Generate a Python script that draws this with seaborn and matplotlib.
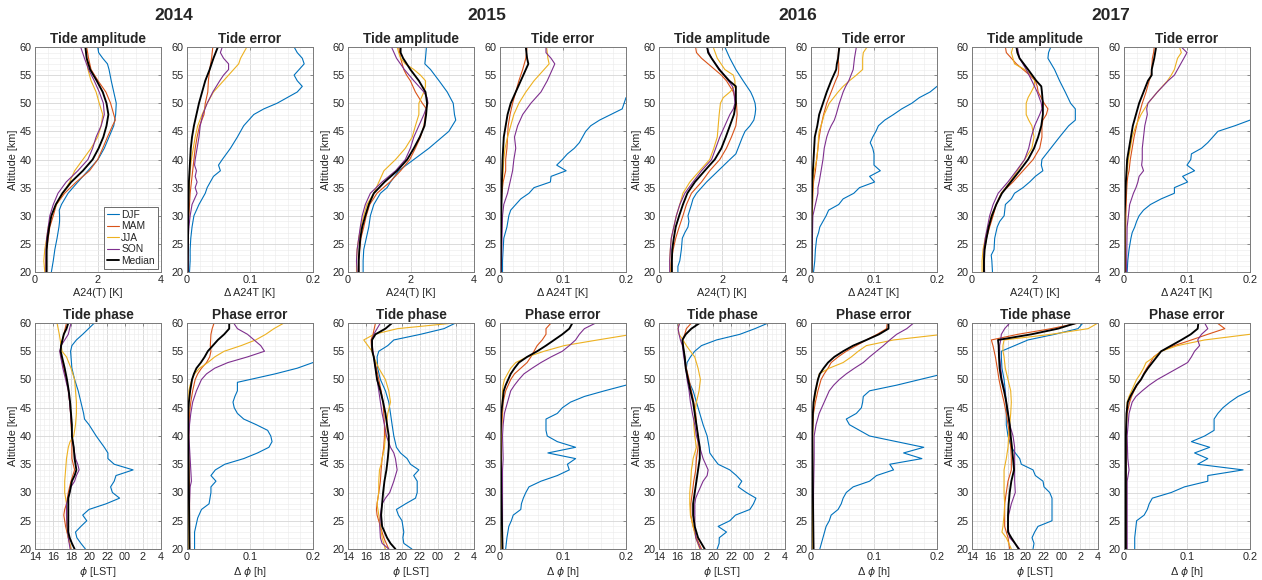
import numpy as np
import pandas as pd
import matplotlib
matplotlib.use("Agg")
import matplotlib.pyplot as plt
import seaborn as sns
from matplotlib.ticker import MultipleLocator, FixedLocator
from matplotlib.lines import Line2D

YEARS = [2014, 2015, 2016, 2017]
SEASONS = ["DJF", "MAM", "JJA", "SON", "Median"]
COLORS = {"DJF": "#0072BD", "MAM": "#D95319", "JJA": "#EDB120", "SON": "#7E2F8E", "Median": "#000000"}
PHASE_TICKS = [14, 16, 18, 20, 22, 24, 26, 28]
PHASE_TICK_LABELS = ["14", "16", "18", "20", "22", "00", "2", "4"]

# ---------------- data: (altitude km, value) ----------------
AMP_2014 = {
 "DJF": [(20,0.52),(22,0.58),(24,0.63),(26,0.70),(28,0.76),(29,0.78),(30,0.78),(31,0.77),(32,0.84),(34,1.05),(36,1.36),(38,1.68),(40,2.0),(42,2.2),(44,2.35),(46,2.5),(48,2.56),(50,2.58),(52,2.5),(54,2.42),(56,2.35),(57,2.3),(58,2.15),(59,2.02),(60,1.99)],
 "MAM": [(20,0.35),(22,0.35),(24,0.37),(26,0.42),(28,0.47),(30,0.58),(32,0.68),(34,0.94),(36,1.31),(38,1.73),(40,1.99),(42,2.15),(44,2.3),(46,2.46),(47,2.55),(48,2.5),(50,2.4),(52,2.25),(54,2.0),(56,1.78),(58,1.7),(60,1.64)],
 "JJA": [(20,0.31),(22,0.28),(24,0.31),(26,0.37),(28,0.42),(30,0.52),(32,0.68),(34,0.89),(36,1.1),(38,1.26),(40,1.52),(42,1.78),(44,1.99),(46,2.1),(48,2.15),(50,2.04),(52,1.94),(54,1.78),(56,1.68),(58,1.64),(60,1.6)],
 "SON": [(20,0.35),(22,0.35),(24,0.35),(26,0.37),(28,0.42),(30,0.47),(32,0.58),(34,0.73),(36,0.99),(38,1.36),(40,1.68),(42,1.83),(44,1.94),(46,2.1),(48,2.2),(50,2.17),(52,2.04),(54,1.88),(56,1.7),(58,1.57),(60,1.45)],
 "Median": [(20,0.37),(22,0.37),(24,0.37),(26,0.4),(28,0.45),(30,0.52),(32,0.66),(34,0.87),(36,1.15),(38,1.52),(40,1.83),(42,2.02),(44,2.17),(46,2.27),(48,2.33),(50,2.27),(52,2.15),(54,1.96),(56,1.75),(58,1.64),(60,1.6)],
}
AMPERR_2014 = {
 "DJF": [(20,0.004),(22,0.005),(24,0.005),(26,0.006),(28,0.008),(30,0.011),(32,0.019),(34,0.029),(35,0.032),(36,0.037),(37,0.042),(38,0.053),(39,0.05),(40,0.056),(42,0.069),(44,0.08),(46,0.09),(48,0.106),(49,0.122),(50,0.143),(51,0.159),(52,0.175),(53,0.183),(54,0.175),(55,0.17),(56,0.178),(57,0.186),(58,0.183),(59,0.175),(60,0.17)],
 "MAM": [(20,0.002),(28,0.002),(30,0.003),(32,0.004),(34,0.005),(36,0.007),(38,0.009),(40,0.011),(42,0.013),(44,0.016),(46,0.02),(48,0.027),(50,0.029),(52,0.033),(54,0.034),(56,0.036),(58,0.039),(60,0.041)],
 "JJA": [(20,0.002),(32,0.002),(34,0.003),(36,0.004),(38,0.005),(40,0.007),(42,0.01),(44,0.013),(46,0.017),(48,0.024),(50,0.032),(52,0.042),(54,0.058),(56,0.074),(57,0.082),(58,0.085),(60,0.095)],
 "SON": [(20,0.002),(26,0.002),(28,0.003),(30,0.005),(32,0.008),(33,0.012),(34,0.016),(35,0.013),(36,0.016),(37,0.013),(38,0.015),(39,0.012),(40,0.013),(42,0.016),(44,0.019),(46,0.021),(48,0.025),(50,0.032),(52,0.041),(54,0.052),(55,0.058),(56,0.066),(57,0.066),(58,0.058),(59,0.053),(60,0.056)],
 "Median": [(20,0.001),(30,0.002),(36,0.003),(38,0.004),(40,0.005),(42,0.006),(44,0.008),(46,0.011),(48,0.015),(50,0.019),(52,0.024),(54,0.029),(56,0.036),(58,0.042),(60,0.049)],
}
PHASE_2014 = {
 "DJF": [(20,19.6),(21,19.1),(22,18.65),(23,18.5),(24,19.1),(25,19.75),(26,19.3),(27,20.0),(28,21.9),(29,23.4),(30,22.6),(31,22.4),(32,22.8),(33,23.0),(34,24.9),(35,22.8),(36,22.1),(37,22.1),(38,21.7),(40,20.8),(42,20.0),(43,19.5),(44,19.4),(46,19.1),(48,18.8),(50,18.4),(52,18.1),(55,17.95),(56,18.1),(57,18.6),(58,19.3),(60,20.6)],
 "MAM": [(20,18.0),(22,17.7),(24,17.4),(26,17.2),(27,17.3),(28,17.5),(30,17.7),(32,18.0),(33,18.2),(34,18.4),(36,18.1),(38,18.1),(40,18.1),(42,18.0),(44,17.95),(46,17.85),(48,17.7),(50,17.5),(52,17.2),(54,16.9),(55,16.8),(56,16.9),(58,17.2),(60,17.5)],
 "JJA": [(20,18.0),(22,17.7),(24,17.5),(26,17.5),(28,17.5),(29,17.4),(30,17.3),(32,17.3),(34,17.4),(36,17.5),(38,17.7),(39,17.9),(40,18.3),(42,18.5),(44,18.6),(46,18.6),(48,18.5),(50,18.4),(52,18.0),(54,17.5),(55,17.0),(56,16.9),(57,16.8),(58,16.7),(60,16.45)],
 "SON": [(20,17.9),(22,17.7),(24,17.55),(26,17.5),(28,17.5),(30,17.85),(31,18.0),(32,18.4),(33,18.6),(34,18.9),(35,18.75),(36,18.5),(38,18.3),(40,18.1),(42,18.05),(44,17.95),(46,17.85),(48,17.7),(50,17.4),(52,17.1),(54,16.85),(55,16.75),(56,16.9),(57,17.3),(58,17.7),(59,17.85),(60,18.0)],
 "Median": [(20,18.4),(21,18.1),(22,17.85),(23,17.7),(24,17.7),(26,17.7),(28,17.7),(29,17.7),(30,17.85),(32,18.1),(33,18.4),(34,18.6),(36,18.4),(38,18.3),(40,18.1),(42,18.1),(44,18.0),(46,17.9),(48,17.75),(50,17.55),(52,17.3),(54,17.0),(55,16.85),(56,16.9),(58,17.2),(59,17.5),(60,17.7)],
}
PHERR_2014 = {
 "DJF": [(20,0.012),(23,0.012),(25.5,0.017),(27,0.023),(28,0.035),(30,0.038),(31,0.038),(32,0.046),(33,0.038),(34,0.045),(35,0.06),(36,0.09),(37,0.112),(38,0.13),(39,0.135),(40,0.133),(41,0.128),(42,0.11),(43,0.09),(44,0.08),(45,0.075),(46,0.073),(47,0.076),(48,0.08),(49.5,0.08),(50,0.1),(51,0.14),(52,0.175),(53,0.2),(54,0.24),(60,0.4)],
 "MAM": [(20,0.004),(30,0.004),(36,0.003),(40,0.003),(44,0.004),(46,0.006),(48,0.009),(50,0.013),(51,0.017),(52,0.023),(53,0.031),(54,0.036),(55,0.038),(56,0.037),(58,0.038),(59,0.04),(60,0.043)],
 "JJA": [(20,0.003),(40,0.002),(48,0.003),(49,0.005),(50,0.008),(51,0.012),(52,0.02),(53,0.033),(54,0.044),(55,0.059),(56,0.086),(57,0.109),(58,0.125),(59,0.138),(60,0.154)],
 "SON": [(20,0.004),(28,0.004),(31,0.005),(32,0.007),(34,0.006),(36,0.005),(40,0.003),(42,0.004),(44,0.006),(46,0.009),(48,0.015),(50,0.023),(51,0.031),(52,0.044),(53,0.065),(54,0.096),(55,0.123),(56,0.117),(58,0.096),(59,0.08),(60,0.074)],
 "Median": [(20,0.004),(30,0.003),(40,0.002),(44,0.002),(46,0.003),(48,0.005),(50,0.008),(51,0.011),(52,0.015),(53,0.022),(54,0.028),(55,0.033),(56,0.041),(57,0.049),(58,0.059),(59,0.067),(60,0.067)],
}

AMP_2015 = {
 "DJF": [(20,0.48),(22,0.48),(24,0.5),(26,0.58),(28,0.66),(30,0.71),(32,0.82),(34,1.03),(35,1.24),(36,1.35),(38,1.61),(40,2.09),(42,2.57),(44,2.99),(45,3.2),(46,3.31),(47,3.42),(48,3.38),(50,3.34),(52,3.15),(54,2.89),(56,2.62),(57,2.44),(58,2.46),(60,2.49)],
 "MAM": [(20,0.34),(22,0.34),(24,0.37),(26,0.41),(28,0.5),(30,0.58),(32,0.69),(34,0.92),(36,1.33),(38,1.67),(40,1.96),(42,2.14),(44,2.3),(46,2.41),(48,2.46),(49,2.49),(50,2.36),(52,2.14),(54,1.98),(55,1.86),(56,1.77),(58,1.67),(60,1.61)],
 "JJA": [(20,0.27),(22,0.27),(24,0.29),(26,0.34),(28,0.41),(30,0.5),(32,0.6),(34,0.82),(36,0.98),(38,1.14),(40,1.51),(42,1.82),(44,2.04),(46,2.14),(48,2.25),(50,2.25),(52,2.41),(53,2.46),(54,2.46),(55,2.3),(56,2.09),(57,1.82),(58,1.67),(59,1.61),(60,1.56)],
 "SON": [(20,0.29),(22,0.27),(24,0.29),(26,0.34),(28,0.39),(30,0.45),(32,0.55),(34,0.71),(36,1.08),(38,1.51),(40,1.82),(42,1.98),(44,2.09),(46,2.25),(48,2.41),(50,2.54),(51,2.51),(52,2.41),(54,2.09),(56,1.79),(58,1.54),(60,1.38)],
 "Median": [(20,0.34),(22,0.34),(24,0.36),(26,0.39),(28,0.45),(30,0.55),(32,0.66),(34,0.82),(36,1.16),(38,1.56),(40,1.88),(42,2.09),(44,2.28),(46,2.43),(48,2.48),(50,2.51),(52,2.46),(54,2.25),(56,1.98),(58,1.75),(59,1.67),(60,1.67)],
}
AMPERR_2015 = {
 "DJF": [(20,0.004),(22,0.004),(24,0.005),(26,0.006),(28,0.011),(30,0.014),(31,0.017),(32,0.025),(33,0.033),(34,0.046),(35,0.054),(36,0.08),(37,0.081),(38,0.105),(39,0.09),(40,0.099),(41,0.107),(42,0.118),(43,0.126),(44,0.131),(45,0.136),(46,0.144),(47,0.158),(48,0.176),(49,0.194),(50,0.197),(51,0.2),(52,0.22),(60,0.35)],
 "MAM": [(20,0.001),(32,0.002),(34,0.003),(36,0.005),(38,0.009),(40,0.009),(42,0.011),(44,0.012),(46,0.013),(48,0.016),(50,0.02),(52,0.025),(54,0.03),(56,0.036),(58,0.041),(60,0.043)],
 "JJA": [(20,0.001),(34,0.002),(36,0.004),(38,0.005),(40,0.006),(42,0.008),(44,0.012),(46,0.017),(48,0.022),(50,0.03),(52,0.041),(54,0.054),(56,0.07),(57,0.078),(58,0.076),(60,0.074)],
 "SON": [(20,0.002),(30,0.004),(32,0.006),(33,0.009),(34,0.012),(35,0.014),(36,0.016),(38,0.02),(40,0.022),(42,0.025),(44,0.023),(46,0.028),(48,0.036),(50,0.049),(52,0.065),(54,0.075),(56,0.083),(57,0.087),(58,0.081),(59,0.073),(60,0.073)],
 "Median": [(20,0.001),(30,0.002),(36,0.003),(40,0.004),(42,0.005),(44,0.006),(46,0.009),(48,0.012),(50,0.017),(52,0.025),(54,0.033),(56,0.041),(57,0.045),(58,0.043),(60,0.041)],
}
PHASE_2015 = {
 "DJF": [(20,21.1),(21,20.2),(22,20.1),(23,20.2),(24,20.1),(25,20.0),(26,19.6),(27,19.38),(28,20.4),(29,21.5),(30,21.69),(31,21.69),(32,21.69),(33,21.3),(34,21.87),(35,20.94),(36,20.57),(37,19.83),(38,19.38),(40,19.09),(42,18.9),(44,18.72),(46,18.53),(48,18.16),(50,17.6),(52,17.3),(54,17.23),(55,17.42),(56,18.42),(57,19.09),(58,22.06),(59,24.66),(60,25.96)],
 "MAM": [(20,18.53),(22,17.97),(24,17.6),(26,17.23),(27,17.16),(28,17.23),(30,17.42),(32,17.6),(34,17.68),(36,17.79),(38,17.97),(40,18.05),(42,18.05),(44,17.97),(46,17.9),(48,17.68),(50,17.42),(52,17.16),(54,16.86),(56,16.6),(57,16.56),(58,16.78),(60,17.05)],
 "JJA": [(20,18.16),(22,17.79),(24,17.6),(26,17.42),(28,17.23),(30,17.42),(32,17.42),(34,17.5),(35,17.68),(36,17.79),(38,18.05),(40,18.16),(42,18.27),(44,18.42),(46,18.72),(48,18.53),(50,18.16),(52,17.42),(54,16.86),(55,16.67),(57,15.75),(58,16.9),(59,19.5),(60,25.8)],
 "SON": [(20,18.53),(21,17.79),(22,17.6),(24,17.53),(26,17.6),(28,17.79),(29,18.16),(30,18.64),(32,19.09),(34,19.46),(36,19.27),(37,19.09),(38,18.72),(40,18.27),(42,18.05),(44,17.79),(46,17.6),(48,17.42),(50,17.23),(52,17.05),(54,16.86),(56,16.7),(57,16.67),(58,16.86),(59,17.23),(60,17.6)],
 "Median": [(20,19.27),(21,18.72),(22,18.34),(24,17.79),(26,17.68),(28,17.79),(30,17.9),(32,18.05),(34,18.27),(36,18.42),(38,18.53),(40,18.53),(42,18.34),(44,18.16),(46,17.9),(48,17.6),(50,17.23),(52,17.05),(54,16.86),(55,16.7),(56,16.67),(57,16.67),(58,17.05),(59,18.16),(60,18.9)],
}
PHERR_2015 = {
 "DJF": [(20,0.009),(22,0.011),(24,0.014),(25,0.018),(26,0.021),(27,0.033),(28,0.034),(29,0.037),(30,0.041),(31,0.046),(32,0.065),(33,0.091),(34,0.11),(35,0.107),(36,0.12),(37,0.076),(38,0.12),(39,0.091),(40,0.075),(41,0.073),(42,0.073),(43,0.073),(44,0.091),(45,0.099),(46,0.112),(47,0.134),(48,0.166),(49,0.2),(50,0.24),(60,0.5)],
 "MAM": [(20,0.004),(30,0.002),(40,0.002),(44,0.004),(46,0.005),(48,0.009),(49,0.013),(50,0.017),(51,0.023),(52,0.033),(53,0.043),(54,0.049),(55,0.054),(56,0.059),(57,0.067),(58,0.073),(59,0.073),(60,0.081)],
 "JJA": [(20,0.002),(40,0.002),(48,0.004),(49,0.005),(50,0.007),(51,0.012),(52,0.017),(53,0.025),(54,0.043),(55,0.07),(56,0.102),(57,0.155),(58,0.21),(60,0.3)],
 "SON": [(20,0.004),(30,0.004),(34,0.004),(36,0.005),(40,0.004),(42,0.005),(44,0.007),(46,0.012),(48,0.017),(49,0.023),(50,0.03),(51,0.038),(52,0.051),(53,0.065),(54,0.081),(55,0.099),(56,0.11),(57,0.12),(58,0.126),(59,0.134),(60,0.152)],
 "Median": [(20,0.004),(30,0.002),(40,0.001),(44,0.002),(46,0.004),(48,0.006),(49,0.009),(50,0.013),(51,0.017),(52,0.023),(53,0.03),(54,0.043),(55,0.059),(56,0.073),(57,0.086),(58,0.099),(59,0.11),(60,0.115)],
}

AMP_2016 = {
 "DJF": [(20,0.6),(21,0.6),(22,0.66),(24,0.71),(26,0.74),(27,0.82),(28,0.92),(29,0.95),(30,0.92),(32,1.03),(33,1.08),(34,1.19),(36,1.51),(38,1.88),(40,2.25),(41,2.44),(42,2.51),(44,2.65),(45,2.73),(46,2.89),(47,3.01),(48,3.05),(49,3.07),(50,3.05),(51,2.99),(52,2.91),(54,2.67),(56,2.44),(58,2.25),(60,2.09)],
 "MAM": [(20,0.36),(22,0.39),(24,0.45),(26,0.53),(28,0.64),(30,0.76),(32,0.87),(34,1.03),(36,1.35),(38,1.61),(40,1.93),(42,2.14),(44,2.3),(46,2.44),(48,2.48),(50,2.46),(52,2.36),(53,2.25),(54,2.14),(55,1.98),(56,1.77),(57,1.56),(58,1.35),(59,1.19),(60,1.16)],
 "JJA": [(20,0.36),(22,0.34),(24,0.36),(26,0.39),(28,0.47),(30,0.55),(32,0.66),(34,0.76),(36,0.98),(38,1.29),(40,1.61),(42,1.74),(44,1.85),(46,1.88),(48,1.91),(49,1.93),(50,1.95),(51,2.04),(52,2.25),(53,2.41),(54,2.41),(55,2.36),(56,2.09),(58,1.85),(60,1.72)],
 "SON": [(20,0.34),(22,0.34),(24,0.36),(26,0.39),(28,0.47),(30,0.55),(32,0.66),(34,0.82),(36,1.08),(38,1.35),(40,1.67),(42,1.8),(44,1.93),(46,2.09),(48,2.25),(49,2.36),(50,2.41),(52,2.38),(53,2.33),(54,2.2),(56,1.93),(58,1.67),(60,1.51)],
 "Median": [(20,0.41),(22,0.41),(24,0.42),(26,0.47),(28,0.53),(30,0.64),(32,0.76),(34,0.9),(36,1.14),(38,1.45),(40,1.77),(42,1.98),(44,2.12),(46,2.25),(48,2.38),(50,2.44),(52,2.44),(53,2.44),(54,2.23),(56,1.91),(58,1.67),(59,1.56),(60,1.53)],
}
AMPERR_2016 = {
 "DJF": [(20,0.004),(22,0.006),(24,0.007),(26,0.009),(27,0.012),(28,0.014),(29,0.019),(30,0.024),(31,0.028),(32,0.044),(33,0.051),(34,0.068),(35,0.077),(36,0.101),(37,0.093),(38,0.11),(39,0.1),(40,0.1),(41,0.1),(42,0.098),(43,0.094),(44,0.098),(45,0.103),(46,0.107),(47,0.117),(48,0.131),(49,0.144),(50,0.16),(51,0.172),(52,0.189),(53,0.2),(54,0.215),(60,0.3)],
 "MAM": [(20,0.001),(30,0.002),(34,0.003),(36,0.004),(38,0.007),(40,0.009),(42,0.011),(44,0.013),(46,0.016),(48,0.02),(50,0.025),(52,0.032),(54,0.039),(55,0.043),(56,0.044),(57,0.044),(58,0.043),(60,0.044)],
 "JJA": [(20,0.001),(30,0.002),(36,0.003),(38,0.005),(40,0.009),(42,0.011),(44,0.012),(45,0.013),(46,0.016),(48,0.021),(50,0.029),(51,0.036),(52,0.043),(53,0.051),(54,0.061),(55,0.072),(56,0.082),(58,0.082),(59,0.083),(60,0.089)],
 "SON": [(20,0.001),(30,0.003),(32,0.007),(34,0.011),(35,0.011),(36,0.013),(38,0.016),(40,0.019),(42,0.021),(44,0.025),(45,0.028),(46,0.032),(47,0.037),(48,0.04),(50,0.045),(52,0.051),(53,0.055),(54,0.06),(56,0.067),(58,0.069),(60,0.072)],
 "Median": [(20,0.001),(30,0.001),(36,0.002),(38,0.003),(40,0.004),(42,0.005),(44,0.006),(45,0.008),(46,0.01),(48,0.013),(50,0.019),(52,0.025),(54,0.032),(56,0.04),(57,0.041),(58,0.043),(60,0.045)],
}
PHASE_2016 = {
 "DJF": [(20,20.46),(21,20.68),(22,20.7),(23,21.5),(24,20.57),(25,21.87),(26,22.5),(27,24.1),(28,24.5),(29,24.77),(30,23.7),(31,22.8),(32,23.2),(33,22.6),(34,21.87),(35,20.57),(36,20.09),(37,19.64),(38,19.57),(40,19.35),(42,18.9),(44,18.53),(46,18.16),(48,17.79),(50,17.23),(52,17.04),(53,17.12),(54,17.49),(55,17.97),(56,18.72),(57,20.39),(58,22.99),(59,24.66),(60,26.14)],
 "MAM": [(20,18.72),(22,18.16),(24,17.79),(26,17.53),(28,17.53),(30,17.71),(32,17.86),(34,18.08),(36,18.16),(38,18.34),(40,18.34),(42,18.16),(44,18.08),(46,17.86),(48,17.6),(50,17.34),(52,17.04),(54,16.86),(56,16.67),(57,16.6),(58,16.86),(59,17.04),(60,17.6)],
 "JJA": [(20,18.53),(22,18.08),(24,17.79),(26,17.49),(28,17.42),(30,17.42),(32,17.53),(34,17.6),(35,17.71),(36,17.79),(37,17.97),(38,18.16),(40,17.97),(42,17.86),(44,17.97),(46,18.16),(48,18.45),(50,18.6),(52,18.34),(54,17.97),(55,17.49),(56,17.04),(57,16.67),(58,16.23),(59,16.12),(60,16.23)],
 "SON": [(20,18.6),(22,18.08),(24,17.97),(26,17.97),(28,17.97),(29,18.08),(30,18.34),(32,18.9),(33,19.35),(34,19.46),(36,18.9),(38,18.53),(40,18.16),(42,17.97),(44,17.71),(46,17.49),(48,17.34),(50,17.12),(52,16.97),(54,16.75),(56,16.6),(57,16.38),(58,16.23),(59,16.12),(60,16.3)],
 "Median": [(20,19.08),(22,18.34),(24,17.97),(26,17.79),(28,17.79),(30,17.97),(32,18.16),(34,18.34),(36,18.53),(38,18.53),(40,18.34),(42,18.16),(44,17.97),(46,17.79),(48,17.49),(50,17.23),(52,16.97),(54,16.86),(56,16.67),(57,16.6),(58,16.97),(59,17.6),(60,18.53)],
}
PHERR_2016 = {
 "DJF": [(20,0.014),(22,0.019),(24,0.024),(25,0.029),(26,0.032),(27,0.043),(28,0.048),(29,0.051),(30,0.056),(31,0.067),(32,0.093),(33,0.104),(34,0.131),(35,0.125),(36,0.176),(37,0.147),(38,0.179),(39,0.136),(40,0.093),(41,0.077),(42,0.061),(43,0.056),(44,0.072),(45,0.08),(46,0.082),(47,0.083),(48,0.093),(49,0.136),(50,0.173),(51,0.21),(60,0.45)],
 "MAM": [(20,0.004),(30,0.003),(40,0.002),(44,0.004),(46,0.007),(48,0.011),(50,0.016),(51,0.021),(52,0.027),(53,0.032),(54,0.043),(55,0.056),(56,0.072),(57,0.088),(58,0.105),(59,0.12),(60,0.121)],
 "JJA": [(20,0.002),(44,0.003),(46,0.005),(48,0.008),(50,0.011),(51,0.013),(52,0.029),(53,0.051),(54,0.064),(55,0.075),(56,0.088),(57,0.131),(58,0.21),(60,0.35)],
 "SON": [(20,0.004),(30,0.004),(36,0.005),(40,0.005),(42,0.008),(44,0.013),(46,0.021),(48,0.029),(49,0.036),(50,0.045),(51,0.056),(52,0.069),(53,0.083),(54,0.093),(55,0.104),(56,0.115),(57,0.125),(58,0.136),(59,0.152),(60,0.163)],
 "Median": [(20,0.004),(30,0.003),(40,0.002),(44,0.003),(46,0.004),(48,0.007),(50,0.011),(51,0.014),(52,0.02),(53,0.027),(54,0.037),(55,0.051),(56,0.067),(57,0.088),(58,0.108),(59,0.123),(60,0.123)],
}

AMP_2017 = {
 "DJF": [(20,0.65),(22,0.63),(23,0.61),(24,0.7),(26,0.72),(28,0.8),(29,0.88),(30,1.02),(32,1.06),(33,1.25),(34,1.35),(35,1.62),(36,1.83),(37,2.01),(38,2.25),(39,2.2),(40,2.22),(42,2.5),(44,2.78),(46,3.07),(47,3.28),(48,3.28),(49,3.28),(50,3.13),(52,2.96),(54,2.78),(56,2.62),(58,2.41),(59,2.43),(60,2.5)],
 "MAM": [(20,0.38),(22,0.38),(24,0.4),(26,0.46),(28,0.56),(30,0.67),(32,0.77),(34,0.93),(36,1.3),(38,1.62),(40,1.94),(42,2.15),(44,2.22),(46,2.22),(47,2.25),(48,2.36),(49,2.41),(50,2.29),(52,2.1),(53,2.07),(54,2.01),(55,1.83),(56,1.62),(57,1.41),(58,1.25),(59,1.09),(60,1.06)],
 "JJA": [(20,0.32),(22,0.32),(24,0.35),(26,0.42),(28,0.51),(30,0.61),(32,0.77),(34,0.93),(36,1.2),(38,1.44),(40,1.67),(42,1.9),(44,1.97),(46,1.9),(47,1.8),(48,1.72),(50,1.72),(51,1.78),(52,1.88),(53,1.97),(54,1.99),(55,1.9),(56,1.67),(57,1.35),(58,1.3),(59,1.25),(60,1.3)],
 "SON": [(20,0.4),(22,0.38),(24,0.38),(26,0.42),(28,0.49),(30,0.56),(32,0.67),(34,0.83),(36,1.14),(38,1.41),(40,1.67),(42,1.8),(44,1.88),(46,1.99),(48,2.15),(49,2.22),(50,2.2),(52,2.07),(54,1.9),(56,1.72),(58,1.51),(60,1.44)],
 "Median": [(20,0.38),(22,0.38),(24,0.4),(26,0.46),(28,0.53),(30,0.63),(32,0.77),(34,0.95),(36,1.23),(38,1.51),(40,1.78),(42,1.97),(44,2.1),(46,2.2),(48,2.25),(50,2.25),(52,2.22),(53,2.2),(54,2.04),(56,1.78),(58,1.51),(59,1.44),(60,1.41)],
}
AMPERR_2017 = {
 "DJF": [(20,0.005),(22,0.006),(24,0.008),(26,0.011),(27,0.013),(28,0.017),(29,0.02),(30,0.024),(31,0.031),(32,0.042),(33,0.059),(34,0.08),(35,0.08),(36,0.101),(37,0.093),(38,0.112),(39,0.1),(40,0.106),(41,0.107),(42,0.123),(43,0.133),(44,0.141),(45,0.149),(46,0.176),(47,0.2),(48,0.22),(60,0.4)],
 "MAM": [(20,0.002),(30,0.003),(34,0.004),(36,0.005),(37,0.006),(38,0.008),(40,0.01),(42,0.013),(44,0.016),(46,0.02),(48,0.024),(50,0.029),(52,0.035),(54,0.04),(55,0.043),(56,0.044),(58,0.045),(59,0.047),(60,0.048)],
 "JJA": [(20,0.001),(34,0.002),(36,0.003),(38,0.005),(40,0.007),(42,0.01),(44,0.013),(46,0.019),(48,0.027),(50,0.038),(52,0.053),(54,0.069),(55,0.075),(56,0.08),(58,0.085),(59,0.091),(60,0.088)],
 "SON": [(20,0.004),(28,0.005),(30,0.007),(32,0.009),(33,0.012),(34,0.015),(35,0.019),(36,0.022),(37,0.024),(38,0.031),(39,0.028),(40,0.029),(42,0.029),(44,0.031),(46,0.033),(48,0.037),(49,0.036),(50,0.038),(52,0.053),(54,0.07),(55,0.08),(56,0.085),(58,0.095),(59,0.1),(60,0.091)],
 "Median": [(20,0.001),(30,0.001),(36,0.003),(38,0.004),(40,0.005),(42,0.008),(44,0.011),(46,0.014),(48,0.019),(50,0.024),(52,0.031),(54,0.038),(55,0.044),(56,0.044),(58,0.048),(60,0.051)],
}
PHASE_2017 = {
 "DJF": [(20,20.78),(21,20.89),(22,20.67),(23,20.96),(24,21.33),(25,22.89),(26,22.89),(27,22.89),(28,22.89),(29,22.89),(30,22.63),(31,22.0),(32,21.89),(33,21.04),(34,20.78),(35,19.48),(36,19.3),(37,18.81),(38,18.37),(40,18.0),(42,17.81),(44,17.81),(46,17.81),(48,17.7),(50,17.56),(52,17.33),(54,17.26),(55,17.26),(56,18.74),(57,20.22),(58,23.19),(59,25.78),(60,26.33)],
 "MAM": [(20,18.19),(22,18.0),(24,17.63),(26,17.63),(28,17.63),(30,17.81),(32,18.0),(34,18.37),(36,18.37),(38,18.3),(40,18.19),(42,18.0),(44,17.81),(46,17.56),(48,17.26),(50,17.0),(52,16.81),(54,16.6),(56,16.33),(57,16.15),(58,19.1),(59,22.8),(60,25.78)],
 "JJA": [(20,18.37),(22,17.81),(23,17.33),(24,17.44),(26,17.56),(28,17.63),(30,17.56),(32,17.56),(34,17.56),(36,17.81),(38,18.0),(40,18.07),(42,18.19),(44,18.3),(46,18.37),(48,18.3),(50,18.0),(52,17.7),(54,17.56),(55,17.44),(56,17.44),(57,17.56),(58,22.8),(59,26.9),(60,28.0)],
 "SON": [(20,19.3),(22,18.19),(24,18.0),(26,18.07),(28,18.37),(30,18.81),(32,18.74),(34,18.74),(36,18.74),(38,18.74),(40,18.56),(42,18.19),(44,18.0),(46,17.81),(48,17.63),(50,17.33),(52,17.19),(54,17.07),(56,17.07),(57,17.19),(58,17.26),(59,17.63),(60,18.19)],
 "Median": [(20,19.19),(22,18.37),(23,18.0),(24,18.0),(26,18.0),(28,18.07),(30,18.19),(32,18.37),(34,18.67),(36,18.56),(38,18.44),(40,18.3),(42,18.19),(44,18.0),(46,17.81),(48,17.56),(50,17.26),(52,17.07),(54,17.0),(56,16.96),(57,16.89),(58,20.6),(59,23.56),(60,25.59)],
}
PHERR_2017 = {
 "DJF": [(20,0.017),(22,0.017),(24,0.019),(25,0.02),(26,0.032),(27,0.037),(28,0.04),(29,0.045),(30,0.075),(31,0.096),(32,0.133),(33,0.133),(34,0.189),(35,0.117),(36,0.133),(37,0.112),(38,0.136),(39,0.107),(40,0.128),(41,0.143),(42,0.143),(43,0.143),(44,0.149),(45,0.157),(46,0.168),(47,0.181),(48,0.2),(49,0.23),(60,0.5)],
 "MAM": [(20,0.003),(40,0.003),(44,0.005),(46,0.009),(47,0.012),(48,0.016),(49,0.021),(50,0.027),(51,0.031),(52,0.036),(53,0.042),(54,0.047),(55,0.059),(56,0.08),(57,0.107),(58,0.133),(59,0.16),(60,0.148)],
 "JJA": [(20,0.003),(40,0.003),(44,0.004),(46,0.005),(47,0.008),(48,0.012),(49,0.016),(50,0.02),(51,0.026),(52,0.031),(53,0.035),(54,0.048),(55,0.059),(56,0.085),(57,0.128),(58,0.2),(60,0.3)],
 "SON": [(20,0.005),(32,0.005),(34,0.008),(36,0.006),(40,0.005),(44,0.008),(46,0.013),(47,0.019),(48,0.029),(49,0.04),(50,0.053),(51,0.069),(52,0.085),(53,0.101),(54,0.107),(55,0.112),(56,0.12),(57,0.117),(58,0.123),(59,0.133),(60,0.128)],
 "Median": [(20,0.003),(40,0.003),(44,0.004),(46,0.006),(47,0.01),(48,0.015),(49,0.02),(50,0.027),(51,0.032),(52,0.038),(53,0.045),(54,0.052),(55,0.059),(56,0.075),(57,0.091),(58,0.106),(59,0.117),(60,0.118)],
}

PANEL_DATA = {
    (2014, "amp"): AMP_2014, (2014, "amperr"): AMPERR_2014, (2014, "phase"): PHASE_2014, (2014, "pherr"): PHERR_2014,
    (2015, "amp"): AMP_2015, (2015, "amperr"): AMPERR_2015, (2015, "phase"): PHASE_2015, (2015, "pherr"): PHERR_2015,
    (2016, "amp"): AMP_2016, (2016, "amperr"): AMPERR_2016, (2016, "phase"): PHASE_2016, (2016, "pherr"): PHERR_2016,
    (2017, "amp"): AMP_2017, (2017, "amperr"): AMPERR_2017, (2017, "phase"): PHASE_2017, (2017, "pherr"): PHERR_2017,
}

rows = []
for (year, q), d in PANEL_DATA.items():
    for s, pts in d.items():
        for a, v in pts:
            rows.append((year, q, s, a, v))
df = pd.DataFrame(rows, columns=["year", "quantity", "season", "alt", "value"])

# ---------------- style ----------------
sns.set_theme(style="white")
plt.rcParams["font.family"] = ["Liberation Sans", "DejaVu Sans"]
plt.rcParams["mathtext.fontset"] = "custom"
plt.rcParams["mathtext.it"] = "DejaVu Sans:italic"
plt.rcParams["mathtext.rm"] = "Liberation Sans"
TXT = "#262626"

CFG = {
    "amp":    dict(title="Tide amplitude", xlabel="A24(T) [K]", xlim=(0, 4), ticks=[0, 2, 4], labels=["0", "2", "4"], minor=0.4, ylab=True),
    "amperr": dict(title="Tide error", xlabel="Δ A24T [K]", xlim=(0, 0.2), ticks=[0, 0.1, 0.2], labels=["0", "0.1", "0.2"], minor=0.02, ylab=False),
    "phase":  dict(title="Tide phase", xlabel=r"$\phi$ [LST]", xlim=(14, 28), ticks=PHASE_TICKS, labels=PHASE_TICK_LABELS, minor=0.5, ylab=True),
    "pherr":  dict(title="Phase error", xlabel=r"Δ $\phi$ [h]", xlim=(0, 0.2), ticks=[0, 0.1, 0.2], labels=["0", "0.1", "0.2"], minor=0.02, ylab=False),
}
LW = {"DJF": 0.8, "MAM": 0.8, "JJA": 0.8, "SON": 0.8, "Median": 1.35}

W, H = 1262, 580
fig = plt.figure(figsize=(W / 100, H / 100), dpi=100)
fig.patch.set_facecolor("white")

PAIR_LEFT = [35, 348, 659, 972]
ERR_OFF = 152
PW = 126
ROWS_Y = [(47, 272), (323, 549)]

def style_axis(ax, cfg):
    ax.set_xlim(*cfg["xlim"])
    ax.set_ylim(20, 60)
    ax.xaxis.set_major_locator(FixedLocator(cfg["ticks"]))
    ax.set_xticklabels(cfg["labels"])
    ax.xaxis.set_minor_locator(MultipleLocator(cfg["minor"]))
    ax.yaxis.set_major_locator(MultipleLocator(5))
    ax.yaxis.set_minor_locator(MultipleLocator(1))
    ax.grid(which="major", color="#d6d6d6", lw=0.6)
    ax.grid(which="minor", color="#ececec", lw=0.45)
    ax.set_axisbelow(True)
    for sp in ax.spines.values():
        sp.set_color("#7a7a7a")
        sp.set_linewidth(0.7)
    ax.tick_params(which="major", direction="in", length=2.5, width=0.6, colors="#7a7a7a",
                   labelcolor=TXT, labelsize=7.8, pad=2.5, top=True, right=True)
    ax.tick_params(which="minor", length=0)
    ax.set_title(cfg["title"], fontsize=9.8, fontweight="bold", color=TXT, pad=3)
    ax.set_xlabel(cfg["xlabel"], fontsize=7.8, color=TXT, labelpad=1.5)
    if cfg["ylab"]:
        ax.set_ylabel("Altitude [km]", fontsize=7.8, color=TXT, labelpad=1)
    else:
        ax.set_ylabel("")

for i, year in enumerate(YEARS):
    for r, (qa, qe) in enumerate([("amp", "amperr"), ("phase", "pherr")]):
        y0, y1 = ROWS_Y[r]
        for j, q in enumerate([qa, qe]):
            x0 = PAIR_LEFT[i] + j * ERR_OFF
            ax = fig.add_axes([x0 / W, 1 - y1 / H, PW / W, (y1 - y0) / H])
            sub = df[(df.year == year) & (df.quantity == q)]
            for s in SEASONS:
                ss = sub[sub.season == s]
                sns.lineplot(data=ss, x="value", y="alt", orient="y", sort=True, estimator=None,
                             color=COLORS[s], linewidth=LW[s], ax=ax, legend=False)
            style_axis(ax, CFG[q])
            if year == 2014 and q == "amp":
                handles = [Line2D([0], [0], color=COLORS[s], lw=LW[s]) for s in SEASONS]
                leg = ax.legend(handles, SEASONS, loc="lower right", fontsize=7.4, frameon=True,
                                fancybox=False, framealpha=1, edgecolor="#555555",
                                borderaxespad=0.3, handlelength=1.2, handletextpad=0.2,
                                labelspacing=0.15, borderpad=0.3)
                leg.get_frame().set_linewidth(0.6)
    cx = (PAIR_LEFT[i] + PAIR_LEFT[i] + ERR_OFF + PW) / 2
    fig.text(cx / W, 1 - 15 / H, str(year), ha="center", va="center", fontsize=12.5,
             fontweight="bold", color=TXT)

fig.savefig("out.png", dpi=100, facecolor="white")
